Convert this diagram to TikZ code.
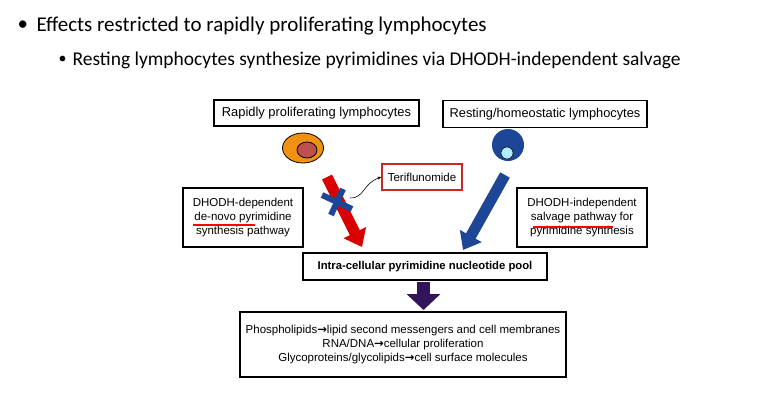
\documentclass[tikz,border=0pt]{standalone}
\usepackage{fontspec}
\setmainfont{Liberation Sans}
\newfontfamily\carlitofont{Carlito}
\newfontfamily\arrfont{DejaVu Sans}
\newcommand{\rarr}{{\arrfont\bfseries →}}
\usetikzlibrary{arrows.meta}
\definecolor{dblue}{RGB}{30,70,150}
\definecolor{orng}{RGB}{240,145,20}
\definecolor{nuc}{RGB}{190,80,80}
\definecolor{purp}{RGB}{50,20,90}
\definecolor{bx}{RGB}{200,40,40}
\begin{document}
\begin{tikzpicture}[x=1pt,y=-1pt,
 box/.style={draw=black,line width=1.3pt,fill=white,inner sep=2pt,align=center},
 fat/.style={line width=11pt}]
\useasboundingbox (0,0) rectangle (762,415);
\node[anchor=west,font=\carlitofont\fontsize{21}{22}\selectfont] (b1) at (14,26) {•};
\node[anchor=west,font=\carlitofont\fontsize{21}{22}\selectfont] (t1) at (33,26) {Effects restricted to rapidly proliferating lymphocytes};
\node[anchor=west,font=\carlitofont\fontsize{16}{17}\selectfont] (b2) at (55,60) {•};
\node[anchor=west,font=\carlitofont\fontsize{19.5}{21}\selectfont] (t2) at (69,60) {Resting lymphocytes synthesize pyrimidines via DHODH-independent salvage};
\node[box,minimum width=205pt,minimum height=26pt,font=\fontsize{12.9}{14}\selectfont] (rp) at (316.5,113) {Rapidly proliferating lymphocytes};
\node[box,minimum width=204pt,minimum height=27pt,font=\fontsize{12.8}{14}\selectfont] (rh) at (545,114) {Resting/homeostatic lymphocytes};
% cells
\draw[line width=0.8pt,fill=orng] (303,148) ellipse (20.5pt and 15pt);
\draw[line width=0.8pt,fill=nuc] (307,150) ellipse (10pt and 8pt);
\fill[dblue] (508,145) circle (16pt);
\draw[fill=blue!25!cyan!30,line width=0.5pt] (507,153) circle (6pt);
% teriflunomide
\node[draw=bx,line width=1.3pt,minimum width=80pt,minimum height=26pt,font=\fontsize{11.5}{13}\selectfont] (ter) at (422,177) {Teriflunomide};
% arrows
\coordinate (ra) at (327,177); \coordinate (rb) at (362,247);
\draw[fat,red!85!black,-{Triangle[width=24pt,length=16pt]}] (ra) -- (rb);
\coordinate (ba) at (505,175); \coordinate (bb) at (463,250);
\draw[fat,dblue,-{Triangle[width=24pt,length=16pt]}] (ba) -- (bb);
\coordinate (cx) at (337,202);
\draw[line width=6pt,dblue] ([shift={(-15,-7)}]cx) -- ([shift={(15,7)}]cx);
\draw[line width=6pt,dblue] ([shift={(-6,13)}]cx) -- ([shift={(6,-13)}]cx);
\coordinate (cs) at (350,198);
\draw[-{Stealth[length=4pt]},line width=0.6pt] (cs) .. controls (365,198) and (362,184) .. (ter.west);
% side boxes
\node[box,minimum width=120pt,minimum height=59pt,font=\fontsize{11.5}{14}\selectfont] (lb) at (243,217.5) {DHODH-dependent\\de-novo pyrimidine\\synthesis pathway};
\draw[red,line width=1.3pt] (193,225) -- (255,225);
\node[box,minimum width=130pt,minimum height=59pt,font=\fontsize{11.5}{14}\selectfont] (rbx) at (582,217.5) {DHODH-independent\\salvage pathway for\\pyrimidine synthesis};
\draw[red,line width=1.3pt] (533,227) -- (613,227);
% pool
\node[box,minimum width=244pt,minimum height=27pt,font=\bfseries\fontsize{11.3}{13}\selectfont] (pool) at (425,266.5) {Intra-cellular pyrimidine nucleotide pool};
\node[box,minimum width=326pt,minimum height=65pt,font=\fontsize{11.5}{14}\selectfont] (out) at (403,344.5) {Phospholipids\rarr lipid second messengers and cell membranes\\RNA/DNA\rarr cellular proliferation\\Glycoproteins/glycolipids\rarr cell surface molecules};
\coordinate (pa) at (423.5,282);
\draw[line width=13pt,purp,-{Triangle[width=33pt,length=16pt]}] (pa) -- (423.5,310);
\end{tikzpicture}
\end{document}
